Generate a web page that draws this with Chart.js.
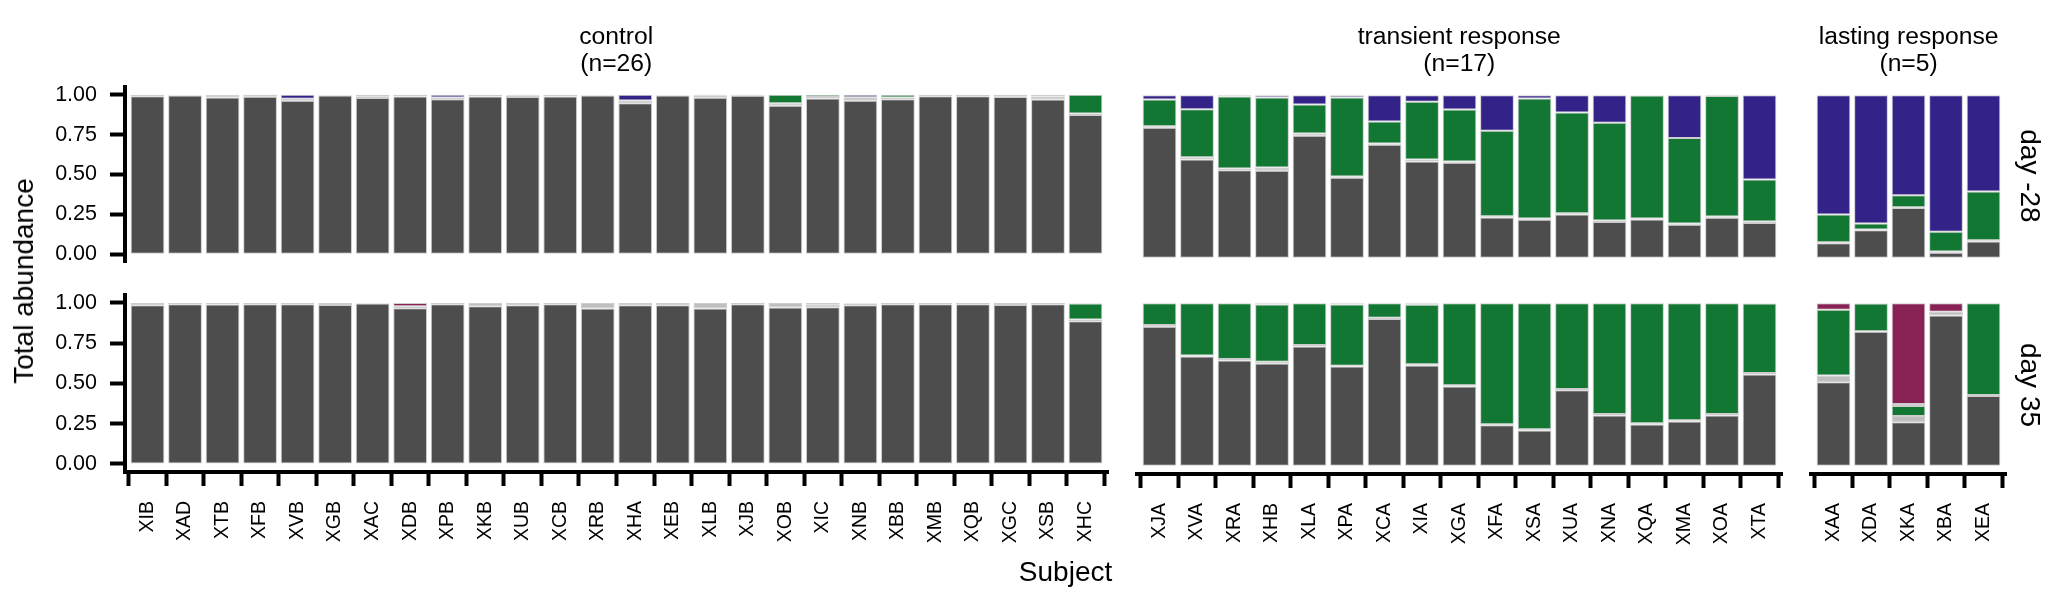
<!DOCTYPE html>
<html><head><meta charset="utf-8">
<script src="https://cdn.jsdelivr.net/npm/chart.js@4.4.0/dist/chart.umd.min.js"></script>
<style>
html,body{margin:0;padding:0;background:#fff;}
#wrap{position:relative;width:2070px;height:600px;overflow:hidden;background:#fff;font-family:"Liberation Sans",Arial,sans-serif;color:#000;}
canvas{position:absolute;}
.t{position:absolute;white-space:nowrap;}
</style></head><body><div id="wrap"></div>
<script>
// ---------------- data ----------------
const controlSubjects = ["XIB","XAD","XTB","XFB","XVB","XGB","XAC","XDB","XPB","XKB","XUB","XCB","XRB","XHA","XEB","XLB","XJB","XOB","XIC","XNB","XBB","XMB","XQB","XGC","XSB","XHC"];
const transientSubjects = ["XJA","XVA","XRA","XHB","XLA","XPA","XCA","XIA","XGA","XFA","XSA","XUA","XNA","XQA","XMA","XOA","XTA"];
const lastingSubjects = ["XAA","XDA","XKA","XBA","XEA"];
const groupLabels = ["control", "transient response", "lasting response"];
const dayLabels = ["day -28", "day 35"];
const yTicks = [0, 0.25, 0.5, 0.75, 1];

// day -28 (order: control 26, transient 17, lasting 5)
const d28Grey = [0.992,0.996,0.984,0.988,0.963,0.996,0.980,0.990,0.972,0.990,0.986,0.990,0.996,0.947,0.996,0.982,0.994,0.932,0.977,0.963,0.972,0.992,0.992,0.986,0.971,0.873,
  0.799,0.605,0.539,0.535,0.750,0.492,0.695,0.592,0.584,0.248,0.234,0.266,0.221,0.236,0.203,0.246,0.215,
  0.090,0.170,0.307,0.031,0.100];
const d28Light = [0.008,0.004,0.016,0.012,0.012,0.004,0.008,0.010,0.012,0.010,0.008,0.010,0.004,0.018,0.004,0.012,0.006,0.016,0.010,0.022,0.012,0.008,0.008,0.006,0.015,0.010,
  0.010,0.014,0.010,0.020,0.014,0.008,0.008,0.012,0.008,0.008,0.008,0.008,0.009,0.006,0.008,0.008,0.009,
  0.006,0.004,0.004,0.008,0.009];
const d28Green = [0,0,0,0,0,0,0.012,0,0,0,0.006,0,0,0,0,0.006,0,0.052,0.013,0,0.016,0,0,0.008,0.004,0.117,
  0.164,0.295,0.443,0.431,0.179,0.486,0.135,0.355,0.320,0.525,0.738,0.619,0.600,0.756,0.525,0.740,0.258,
  0.170,0.037,0.074,0.121,0.299];
const d28Purple = [0,0,0,0,0.025,0,0,0,0.016,0,0,0,0,0.035,0,0,0,0,0,0.015,0,0,0,0,0.010,0,
  0.027,0.086,0.008,0.014,0.057,0.014,0.162,0.041,0.088,0.219,0.020,0.107,0.170,0.002,0.264,0.006,0.518,
  0.734,0.789,0.615,0.840,0.592];
const d28Wine = [0,0,0,0,0,0,0,0,0,0,0,0,0,0,0,0,0,0,0,0,0,0,0,0,0,0,
  0,0,0,0,0,0,0,0,0,0,0,0,0,0,0,0,0,
  0,0,0,0,0];

// day 35
const d35Grey = [0.986,0.992,0.990,0.992,0.992,0.988,0.996,0.967,0.992,0.980,0.986,0.992,0.965,0.986,0.986,0.965,0.992,0.971,0.973,0.986,0.992,0.992,0.992,0.988,0.992,0.887,
  0.855,0.672,0.648,0.629,0.734,0.611,0.902,0.617,0.488,0.250,0.217,0.465,0.309,0.254,0.273,0.309,0.561,
  0.514,0.824,0.268,0.924,0.430];
const d35Light = [0.014,0.008,0.010,0.008,0.008,0.012,0.004,0.012,0.008,0.020,0.014,0.008,0.035,0.014,0.014,0.035,0.008,0.029,0.016,0.010,0.002,0.008,0.008,0.012,0.008,0.010,
  0.010,0.006,0.008,0.011,0.008,0.004,0.008,0.008,0.008,0.006,0.008,0.008,0.009,0.008,0.008,0.009,0.009,
  0.041,0.004,0.039,0.023,0.006];
const d35Green = [0,0,0,0,0,0,0,0,0,0,0,0,0,0,0,0,0,0,0.011,0.004,0.006,0,0,0,0,0.099,
  0.135,0.322,0.344,0.352,0.258,0.377,0.090,0.365,0.504,0.744,0.775,0.527,0.682,0.738,0.719,0.682,0.428,
  0.404,0.170,0.061,0,0.564];
const d35Purple = [0,0,0,0,0,0,0,0,0,0,0,0,0,0,0,0,0,0,0,0,0,0,0,0,0,0,
  0,0,0,0,0,0,0,0.004,0,0,0,0,0,0,0,0,0,
  0,0.002,0.012,0,0];
const d35Wine = [0,0,0,0,0,0,0,0.021,0,0,0,0,0,0,0,0,0,0,0,0,0,0,0,0,0,0.004,
  0,0,0,0.008,0,0.008,0,0.006,0,0,0,0,0,0,0,0,0.002,
  0.041,0,0.620,0.053,0];

// ---------------- layout & styles ----------------
const groups = [controlSubjects, transientSubjects, lastingSubjects];
const days = [
  [d28Grey, d28Light, d28Green, d28Purple, d28Wine],
  [d35Grey, d35Light, d35Green, d35Purple, d35Wine]
];
const seriesNames = ["grey", "light grey", "green", "purple", "wine"];
const seriesColors = ["#4d4d4d", "#bebebe", "#117733", "#332288", "#882255"];

const PITCH = 37.5;
const EXPAND = 0.6;
const panelLeft = [125, 1136.8, 1811.1];
const rowTop = [86.65, 295.05];
const PANEL_H = 179.3;
const FONT = "'Liberation Sans', Arial, Helvetica, sans-serif";

Chart.defaults.font.family = FONT;
Chart.defaults.color = '#000';

const wrap = document.getElementById('wrap');

function addText(txt, css) {
  const d = document.createElement('div');
  d.className = 't';
  d.textContent = txt;
  Object.assign(d.style, css);
  wrap.appendChild(d);
  return d;
}
const panelWidth = n => (n - 1 + 2 * EXPAND) * PITCH;

function makePanel(row, g) {
  const subjects = groups[g];
  const n = subjects.length;
  let start = 0;
  for (let k = 0; k < g; k++) start += groups[k].length;
  const hasY = g === 0, hasX = row === 1;
  const padL = hasY ? 125 : 24, padR = 24, padT = 24, padB = hasX ? 110 : 24;
  const pw = panelWidth(n);
  const cv = document.createElement('canvas');
  cv.width = Math.round(padL + pw + padR);
  cv.height = Math.round(padT + PANEL_H + padB);
  cv.style.left = (panelLeft[g] - padL) + 'px';
  cv.style.top = (rowTop[row] - padT) + 'px';
  wrap.appendChild(cv);

  const datasets = days[row].map((arr, si) => ({
    label: seriesNames[si],
    data: arr.slice(start, start + n).map((v, i) => ({x: i, y: v})),
    backgroundColor: seriesColors[si],
    borderColor: '#cdcdcd',
    borderWidth: 1,
    borderSkipped: false,
    barPercentage: 0.9,
    categoryPercentage: 1.0
  }));

  const xScale = {
    type: 'linear', stacked: true, min: -EXPAND, max: n - 1 + EXPAND, offset: false, display: hasX,
    afterBuildTicks: s => { s.ticks = subjects.map((_, i) => ({value: i})); },
    grid: {drawOnChartArea: false, drawTicks: true, tickLength: 14, tickWidth: 4, tickColor: '#000'},
    border: {display: true, width: 4, color: '#000'},
    ticks: {autoSkip: false, minRotation: 90, maxRotation: 90, padding: 15, color: '#000',
            font: {size: 19.5}, callback: v => subjects[v]}
  };
  if (hasX) xScale.afterFit = s => { s.height = padB; };
  const yScale = {
    stacked: true, min: -0.05, max: 1.05, display: hasY,
    afterBuildTicks: s => { s.ticks = yTicks.map(v => ({value: v})); },
    grid: {drawOnChartArea: false, drawTicks: true, tickLength: 15, tickWidth: 4, tickColor: '#000'},
    border: {display: true, width: 4, color: '#000'},
    ticks: {padding: 13, color: '#000', font: {size: 21.5}, callback: v => v.toFixed(2)}
  };
  if (hasY) yScale.afterFit = s => { s.width = padL; };

  const chart = new Chart(cv, {
    type: 'bar',
    data: {datasets},
    options: {
      responsive: false, animation: false, devicePixelRatio: 1,
      layout: {padding: {left: hasY ? 0 : padL, right: padR, top: padT, bottom: hasX ? 0 : padB}},
      plugins: {legend: {display: false}, tooltip: {enabled: false}},
      scales: {x: xScale, y: yScale}
    }
  });
  const ca = chart.chartArea;
  cv.style.left = (panelLeft[g] - ca.left) + 'px';
  cv.style.top = (rowTop[row] - ca.top) + 'px';
}

for (let r = 0; r < 2; r++) for (let g = 0; g < 3; g++) makePanel(r, g);

// strip labels (top)
groups.forEach((subs, g) => {
  const cx = panelLeft[g] + panelWidth(subs.length) / 2;
  const d = addText('', {left: (cx - 200) + 'px', width: '400px', top: '22px', fontSize: '24.7px',
    lineHeight: '27px', textAlign: 'center', whiteSpace: 'normal'});
  d.innerHTML = groupLabels[g] + '<br>(n=' + subs.length + ')';
});
// strip labels (right)
dayLabels.forEach((lab, r) => {
  const cy = rowTop[r] + PANEL_H / 2;
  addText(lab, {left: '2030px', top: cy + 'px', fontSize: '28px', lineHeight: '28px',
    transform: 'translate(-50%,-50%) rotate(90deg)'});
});
// axis titles
addText('Total abundance', {left: '24px', top: ((rowTop[0] + rowTop[1] + PANEL_H) / 2) + 'px', fontSize: '28px',
  lineHeight: '28px', transform: 'translate(-50%,-50%) rotate(-90deg)'});
const plotCenter = (panelLeft[0] + panelLeft[2] + panelWidth(lastingSubjects.length)) / 2;
addText('Subject', {left: plotCenter + 'px', top: '558px', fontSize: '28px', lineHeight: '28px',
  transform: 'translateX(-50%)'});
</script></body></html>
